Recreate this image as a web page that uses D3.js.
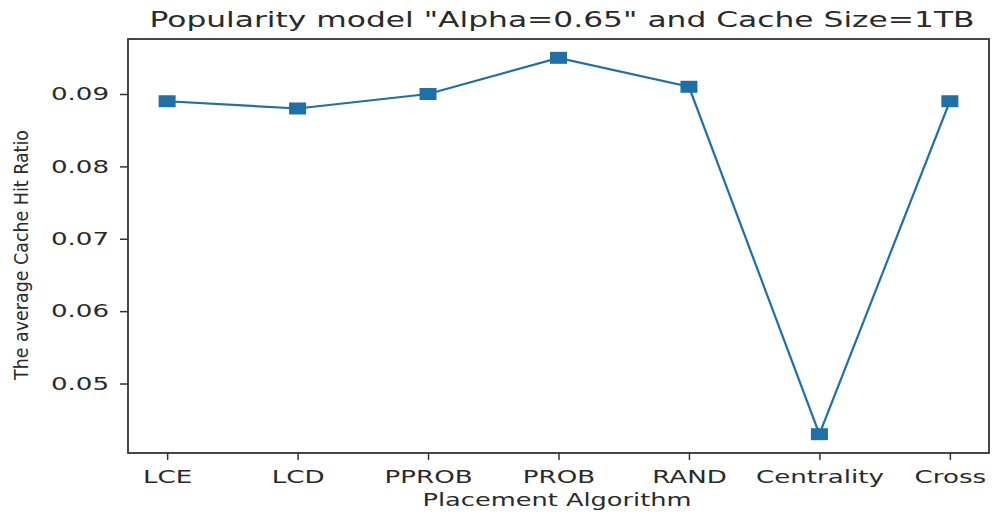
<!DOCTYPE html>
<html><head><meta charset="utf-8">
<script src="https://cdn.jsdelivr.net/npm/d3@7"></script>
<style>body{margin:0;background:#fff}svg{display:block}</style>
</head><body>
<svg id="c" width="992" height="515"></svg>
<script>
const categories = ["LCE","LCD","PPROB","PROB","RAND","Centrality","Cross"];
const hitRatio = [0.089,0.088,0.090,0.095,0.091,0.043,0.089];
const yTicks = [0.05,0.06,0.07,0.08,0.09];
const titleText = 'Popularity model "Alpha=0.65" and Cache Size=1TB';
const xLabel = "Placement Algorithm";
const yLabel = "The average Cache Hit Ratio";

const svg = d3.select("#c");
const L=128, R=989, T=39, B=453;
const x = d3.scaleLinear().domain([-0.3, categories.length-1+0.3]).range([L,R]);
const y = d3.scaleLinear().domain([0.0404,0.0976]).range([B,T]);
const col = "#1f6fa8";
const font = "DejaVu Sans";
const txt = "#2a2a2a";

function stretch(sel, k){
  sel.each(function(){
    const w = this.getComputedTextLength();
    d3.select(this).attr("textLength", w*k).attr("lengthAdjust","spacingAndGlyphs");
  });
}

svg.append("rect").attr("x",L).attr("y",T).attr("width",R-L).attr("height",B-T)
  .attr("fill","none").attr("stroke","#333").attr("stroke-width",1.8);

const gx = svg.append("g").attr("transform",`translate(0,${B})`)
  .call(d3.axisBottom(x).tickValues(d3.range(categories.length)).tickFormat(i=>categories[i]).tickSize(7).tickPadding(6));
gx.select(".domain").remove();
gx.selectAll("line").attr("stroke","#333").attr("stroke-width",1.5);
gx.selectAll("text").attr("font-family",font).attr("font-size",18).attr("fill",txt).attr("dy","0.95em");
stretch(gx.selectAll("text"),1.45);

const gy = svg.append("g").attr("transform",`translate(${L},0)`)
  .call(d3.axisLeft(y).tickValues(yTicks).tickFormat(d3.format(".2f")).tickSize(8).tickPadding(11));
gy.select(".domain").remove();
gy.selectAll("line").attr("stroke","#333").attr("stroke-width",1.5);
gy.selectAll("text").attr("font-family",font).attr("font-size",18).attr("fill",txt);
stretch(gy.selectAll("text"),1.45);

const line = d3.line().x((d,i)=>x(i)).y(d=>y(d));
svg.append("path").datum(hitRatio).attr("d",line).attr("fill","none").attr("stroke",col).attr("stroke-width",2.2);
const mw=17, mh=12;
svg.selectAll("rect.m").data(hitRatio).enter().append("rect").attr("class","m")
  .attr("x",(d,i)=>x(i)-mw/2).attr("y",d=>y(d)-mh/2).attr("width",mw).attr("height",mh).attr("fill",col);

const t = svg.append("text").attr("x",562).attr("y",27).attr("text-anchor","middle")
  .attr("font-family",font).attr("font-size",21).attr("fill",txt).text(titleText);
t.attr("textLength",825).attr("lengthAdjust","spacingAndGlyphs");
const xl = svg.append("text").attr("x",557).attr("y",506).attr("text-anchor","middle")
  .attr("font-family",font).attr("font-size",18).attr("fill",txt).text(xLabel);
xl.attr("textLength",269).attr("lengthAdjust","spacingAndGlyphs");
const yl = svg.append("text").attr("transform",`translate(28,255) rotate(-90)`).attr("text-anchor","middle")
  .attr("font-family","DejaVu Sans Condensed, Liberation Sans Narrow, sans-serif").attr("font-stretch","condensed")
  .attr("font-size",20).attr("fill",txt).text(yLabel);
yl.attr("textLength",250).attr("lengthAdjust","spacingAndGlyphs");
</script>
</body></html>
